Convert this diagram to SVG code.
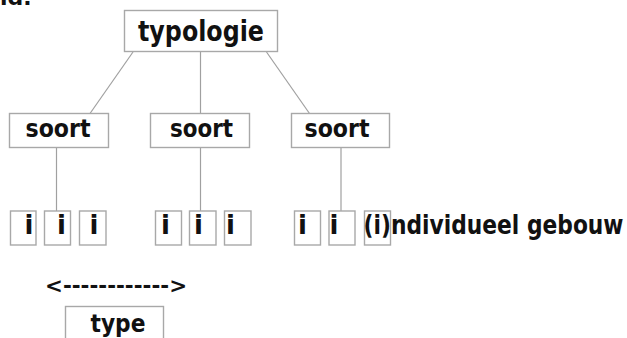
<svg xmlns="http://www.w3.org/2000/svg" width="627" height="338" viewBox="0 0 627 338">
<style>
text{font-family:"DejaVu Sans","Noto Sans",sans-serif;font-weight:700;fill:#111}
.box{fill:#fff;stroke:#a8a8a8;stroke-width:1.4}
.ln{stroke:#a0a0a0;stroke-width:1.2;fill:none}
.t1{font-size:28px}
.t2{font-size:25px}
.ti{font-size:26px}
</style>
<rect width="627" height="338" fill="#fff"/>
<text x="0" y="5" style="font-size:22px">ld.</text>
<g id="connectors">
<line class="ln" x1="133" y1="52" x2="90" y2="113.5"/>
<line class="ln" x1="200.5" y1="52" x2="200.5" y2="113.5"/>
<line class="ln" x1="266.5" y1="52" x2="309.5" y2="113.5"/>
<line class="ln" x1="56.5" y1="148" x2="56.5" y2="211"/>
<line class="ln" x1="200.5" y1="148" x2="200.5" y2="211"/>
<line class="ln" x1="341" y1="148" x2="341" y2="211"/>
</g>
<g id="typologie">
<rect class="box" x="124.5" y="10.5" width="153" height="41"/>
<text class="t1" x="138" y="40.5" textLength="126" lengthAdjust="spacingAndGlyphs">typologie</text>
</g>
<g id="soort1">
<rect class="box" x="9.5" y="113.5" width="99" height="34"/>
<text class="t2" x="25.5" y="137" textLength="65" lengthAdjust="spacingAndGlyphs">soort</text>
</g>
<g id="soort2">
<rect class="box" x="150.5" y="113.5" width="99" height="34"/>
<text class="t2" x="170" y="137" textLength="63" lengthAdjust="spacingAndGlyphs">soort</text>
</g>
<g id="soort3">
<rect class="box" x="291.5" y="113.5" width="98" height="34"/>
<text class="t2" x="304.5" y="137" textLength="65" lengthAdjust="spacingAndGlyphs">soort</text>
</g>
<g id="i1"><rect class="box" x="10.5" y="211" width="25.5" height="34"/><text class="ti" x="29" y="234" text-anchor="middle">i</text></g>
<g id="i2"><rect class="box" x="44.5" y="211" width="26" height="34"/><text class="ti" x="61.5" y="234" text-anchor="middle">i</text></g>
<g id="i3"><rect class="box" x="79.5" y="211" width="26.5" height="34"/><text class="ti" x="94" y="234" text-anchor="middle">i</text></g>
<g id="i4"><rect class="box" x="155.5" y="211" width="26" height="34"/><text class="ti" x="165.5" y="234" text-anchor="middle">i</text></g>
<g id="i5"><rect class="box" x="189.5" y="211" width="26.5" height="34"/><text class="ti" x="198.5" y="234" text-anchor="middle">i</text></g>
<g id="i6"><rect class="box" x="224.5" y="211" width="26.5" height="34"/><text class="ti" x="230.5" y="234" text-anchor="middle">i</text></g>
<g id="i7"><rect class="box" x="294.5" y="211" width="26" height="34"/><text class="ti" x="302.5" y="234" text-anchor="middle">i</text></g>
<g id="i8"><rect class="box" x="329" y="211" width="26" height="34"/><text class="ti" x="334" y="234" text-anchor="middle">i</text></g>
<g id="i9"><rect class="box" x="364.5" y="211" width="26" height="34"/><text class="ti" x="363.5" y="234" textLength="260" lengthAdjust="spacingAndGlyphs">(i)ndividueel gebouw</text></g>
<g id="arrow">
<text x="45" y="292.5" style="font-size:22px" textLength="142" lengthAdjust="spacingAndGlyphs">&lt;------------&gt;</text>
</g>
<g id="type">
<rect class="box" x="65.5" y="306.5" width="98" height="40"/>
<text class="t2" x="90.5" y="332" textLength="55" lengthAdjust="spacingAndGlyphs">type</text>
</g>
</svg>
